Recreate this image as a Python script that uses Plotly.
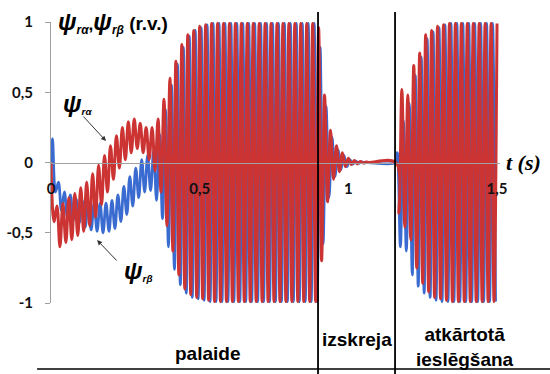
import numpy as np
import plotly.graph_objects as go

# ---------------- data ----------------
HALF_PERIOD = 0.01          # time between successive extrema (50 Hz)

# psi_r_alpha (red): extrema, first block starts at t = 0.00
RED_T0_A = 0.00
red_vals_A = [
    0.00, -0.42, -0.31, -0.60, -0.29, -0.57, -0.25, -0.55, -0.22, -0.52,
    -0.18, -0.49, -0.14, -0.45, -0.08, -0.39, -0.02, -0.30, 0.05, -0.21,
    0.12, -0.12, 0.19, -0.04, 0.25, 0.02, 0.29, 0.07, 0.31, 0.10,
    0.28, 0.07, 0.25, 0.02, 0.25, -0.06, 0.31, -0.21, 0.45, -0.45,
    0.60, -0.63, 0.72, -0.80, 0.84, -0.90, 0.91, -0.94, 0.94, -0.96,
    0.97, -0.97, 0.98, -0.98,
    0.99, -0.99, 0.99, -0.99, 0.99, -0.99, 0.99, -0.99, 0.99, -0.99,
    0.99, -0.99, 0.99, -0.99, 0.99, -0.99, 0.99, -0.99, 0.99, -0.99,
    0.99, -0.99, 0.99, -0.99, 0.99, -0.99, 0.99, -0.99, 0.99, -0.99,
    0.99, -0.99, 0.99, -0.99, 0.99, -0.99,
    0.96, -0.70, 0.48, -0.28, 0.23, -0.12, 0.12, -0.065, 0.07, -0.03,
    0.03, -0.015, 0.015, -0.01, 0.008, -0.004, 0.003, 0.00,
]
# second block (re-connection) starts at t = 1.16
RED_T0_B = 1.16
red_vals_B = [
    0.00, -0.36, 0.52, -0.46, 0.48, -0.55, 0.69, -0.75, 0.78, -0.86,
    0.91, -0.92, 0.94, -0.96, 0.97, -0.97, 0.98, -0.98,
    0.99, -0.99, 0.99, -0.99, 0.99, -0.99, 0.99, -0.99, 0.99, -0.99,
    0.99, -0.99, 0.99, -0.99, 0.99, -0.99, 0.99,
]

# psi_r_beta (blue): starts at 0 at t = 0, extrema lag red by a quarter period
BLUE_START = 0.00
BLUE_T0_A = 0.005
blue_vals_A = [
    0.17, -0.21, -0.14, -0.34, -0.21, -0.39, -0.23, -0.41, -0.26, -0.43,
    -0.27, -0.46, -0.28, -0.48, -0.29, -0.49, -0.29, -0.50, -0.29, -0.49,
    -0.27, -0.47, -0.23, -0.42, -0.17, -0.37, -0.10, -0.31, -0.04, -0.25,
    0.02, -0.21, 0.05, -0.20, 0.08, -0.27, 0.20, -0.40, 0.38, -0.60,
    0.55, -0.76, 0.70, -0.87, 0.82, -0.93, 0.90, -0.96, 0.94, -0.97,
    0.96, -0.98, 0.98, -0.99,
    0.99, -0.99, 0.99, -0.99, 0.99, -0.99, 0.99, -0.99, 0.99, -0.99,
    0.99, -0.99, 0.99, -0.99, 0.99, -0.99, 0.99, -0.99, 0.99, -0.99,
    0.99, -0.99, 0.99, -0.99, 0.99, -0.99, 0.99, -0.99, 0.99, -0.99,
    0.99, -0.99, 0.99, -0.99, 0.99, -0.99,
    0.82, -0.58, 0.40, -0.25, 0.18, -0.10, 0.09, -0.05, 0.05, -0.03,
    0.02, -0.012, 0.01, -0.006, 0.004, -0.002, 0.00,
]
BLUE_T_RECONNECT = 1.16
BLUE_T0_B = 1.165
blue_vals_B = [
    0.07, -0.60, 0.30, -0.63, 0.42, -0.80, 0.62, -0.88, 0.75, -0.93,
    0.88, -0.96, 0.93, -0.98, 0.96, -0.99, 0.98,
    -0.99, 0.99, -0.99, 0.99, -0.99, 0.99, -0.99, 0.99, -0.99,
    0.99, -0.99, 0.99, -0.99, 0.99, -0.99, 0.99, -0.99,
]

x_tickvals = [0, 0.5, 1, 1.5]
x_ticktext = ["0", "0,5", "1", "1,5"]
y_tickvals = [-1, -0.5, 0, 0.5, 1]
y_ticktext = ["-1", "-0,5", "0", "0,5", "1"]

t_disconnect = 0.898     # vertical separator: end of start-up
t_reconnect = 1.157      # vertical separator: re-connection

stage_labels = ["palaide", "izskreja", "atkārtotā<br>ieslēgšana"]

# ---------------- build series ----------------
def grid(t0, n):
    return np.round(t0 + HALF_PERIOD * np.arange(n), 4)

red_t = np.concatenate([grid(RED_T0_A, len(red_vals_A)), grid(RED_T0_B, len(red_vals_B))])
red_y = np.array(red_vals_A + red_vals_B)

blue_t = np.concatenate([[BLUE_START], grid(BLUE_T0_A, len(blue_vals_A)),
                         [BLUE_T_RECONNECT], grid(BLUE_T0_B, len(blue_vals_B))])
blue_y = np.array([0.0] + blue_vals_A + [0.0] + blue_vals_B)

RED = "#CC3333"
BLUE = "#3A6BD0"

fig = go.Figure()
fig.add_trace(go.Scatter(x=blue_t, y=blue_y, mode="lines",
                         line=dict(color=BLUE, width=2.8, shape="spline", smoothing=1),
                         hoverinfo="skip", showlegend=False))
fig.add_trace(go.Scatter(x=red_t, y=red_y, mode="lines",
                         line=dict(color=RED, width=3.0, shape="spline", smoothing=1),
                         hoverinfo="skip", showlegend=False))

XMIN, XMAX = 0, 1.51
AX_GREY = "#A0A0A0"
tickfont = dict(family="Lato, Liberation Sans, sans-serif", size=15, color="#111111", weight="bold")

fig.update_layout(
    width=550, height=374,
    margin=dict(l=51, r=50, t=22, b=71),
    paper_bgcolor="white", plot_bgcolor="white",
    showlegend=False,
    xaxis=dict(range=[XMIN, XMAX], tickvals=x_tickvals, ticktext=x_ticktext,
               showgrid=False, zeroline=False, showline=True, linecolor=AX_GREY, linewidth=1,
               anchor="free", position=0.5, ticks="", tickfont=tickfont,
               ticklabelstandoff=12, automargin=False),
    yaxis=dict(range=[-1, 1], tickvals=y_tickvals, ticktext=y_ticktext,
               showgrid=False, zeroline=False, showline=True, linecolor=AX_GREY, linewidth=1,
               ticks="outside", ticklen=5, tickcolor=AX_GREY, tickfont=tickfont,
               ticklabelstandoff=9, automargin=False),
)

def xp(t):
    return (t - XMIN) / (XMAX - XMIN)

shapes = []
for tv in (t_disconnect, t_reconnect):
    shapes.append(dict(type="line", xref="paper", yref="paper", x0=xp(tv), x1=xp(tv),
                       y0=1.036, y1=-0.27, line=dict(color="black", width=1.8)))
shapes.append(dict(type="line", xref="paper", yref="paper", x0=-0.031, x1=1.12,
                   y0=-0.235, y1=-0.235, line=dict(color="black", width=1.5)))
fig.update_layout(shapes=shapes)

lab_font = dict(family="Liberation Sans, Arial, sans-serif", size=19, color="black", weight="bold")
ann = []
ann.append(dict(x=xp(0.525), y=-0.18, xref="paper", yref="paper", text=stage_labels[0],
                showarrow=False, font=lab_font, xanchor="center", yanchor="middle"))
ann.append(dict(x=xp(1.029), y=-0.13, xref="paper", yref="paper", text=stage_labels[1],
                showarrow=False, font=lab_font, xanchor="center", yanchor="middle"))
ann.append(dict(x=xp(1.393), y=-0.155, xref="paper", yref="paper", text=stage_labels[2],
                showarrow=False, font=lab_font, xanchor="center", yanchor="middle"))

PSI = '<span style="font-size:24px"><b><i>ψ</i></b></span>'
title_txt = (PSI + '<sub><b><i>rα</i></b></sub><b>,</b>' + PSI + '<sub><b><i>rβ</i></b></sub>'
             '<span style="font-size:19px"><b> (r.v.)</b></span>')
ann.append(dict(x=0.011, y=0.998, xref="paper", yref="paper", xanchor="left", yanchor="middle",
                text=title_txt, showarrow=False,
                font=dict(family="Liberation Sans, Arial, sans-serif", size=17, color="black")))
ann.append(dict(x=1.008, y=0.5, xref="paper", yref="paper", xanchor="left", yanchor="middle",
                text="<b><i>t (s)</i></b>", showarrow=False,
                font=dict(family="Liberation Serif, serif", size=22, color="black")))

# series labels + arrows
ann.append(dict(x=(61 - 51) / 449, y=(303 - 104) / 281, xref="paper", yref="paper",
                xanchor="left", yanchor="middle",
                text=PSI + "<sub><b><i>rα</i></b></sub>", showarrow=False,
                font=dict(family="Liberation Sans, Arial, sans-serif", size=14, color="black")))
ann.append(dict(x=(122 - 51) / 449, y=(303 - 270) / 281, xref="paper", yref="paper",
                xanchor="left", yanchor="middle",
                text=PSI + "<sub><b><i>rβ</i></b></sub>", showarrow=False,
                font=dict(family="Liberation Sans, Arial, sans-serif", size=14, color="black")))
ann.append(dict(x=0.185, y=0.153, xref="x", yref="y", text="", showarrow=True,
                ax=-24, ay=-26, arrowhead=2, arrowsize=1, arrowwidth=1, arrowcolor="#333333",
                standoff=0, startstandoff=0))
ann.append(dict(x=0.155, y=-0.552, xref="x", yref="y", text="", showarrow=True,
                ax=21, ay=22, arrowhead=2, arrowsize=1, arrowwidth=1, arrowcolor="#333333",
                standoff=0, startstandoff=0))
fig.update_layout(annotations=ann)

fig.write_html("out.html")
